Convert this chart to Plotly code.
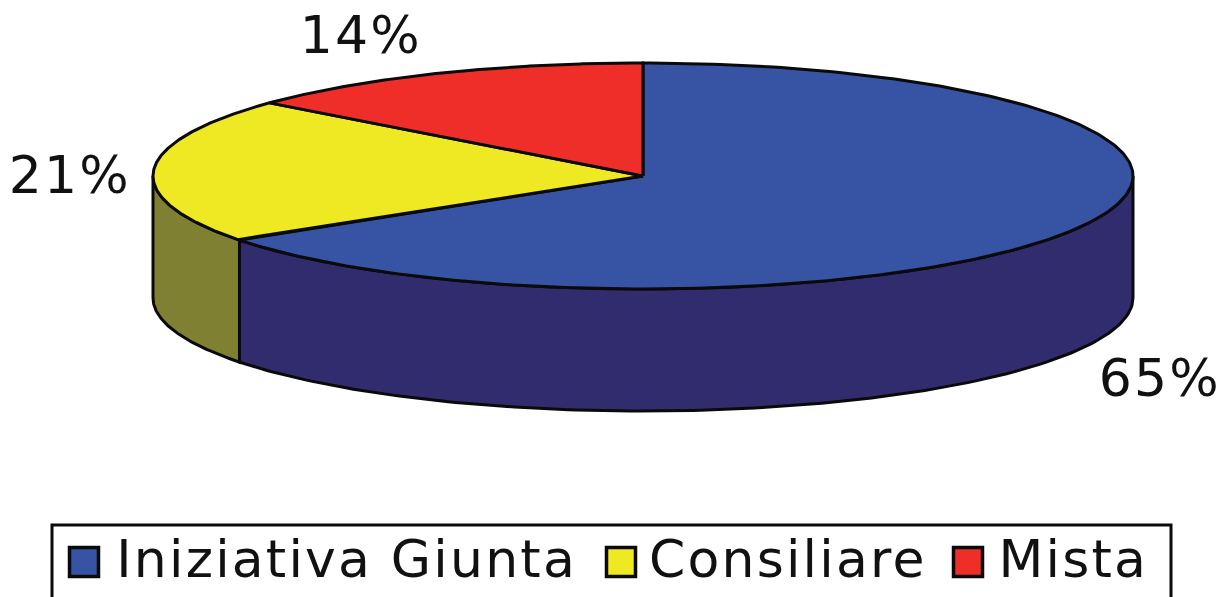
import numpy as np
import plotly.graph_objects as go

categories = ["Iniziativa Giunta", "Consiliare", "Mista"]
values = [65.4, 20.8, 13.8]
value_labels = ["65%", "21%", "14%"]
top_colors = ["#3753A4", "#EEE922", "#EF2E2A"]
side_colors = ["#312C6E", "#808033", "#7F1A18"]

W, H = 1223, 597
CX, CY, RX, RY, DEPTH = 643, 176, 490, 113, 122
LINE = "#0a0a0a"


def ell(t):
    t = np.radians(t)
    return CX + RX * np.sin(t), CY - RY * np.cos(t)


fig = go.Figure()
total = sum(values)
edges = np.concatenate([[0], np.cumsum(values) / total * 360])


def poly(xs, ys, color, name):
    fig.add_trace(go.Scatter(x=xs, y=ys, mode="lines", fill="toself", fillcolor=color,
                             line=dict(color=LINE, width=3), name=name,
                             hoverinfo="name", showlegend=False))


# Side walls: only the part of each slice on the front half of the ellipse
for i, cat in enumerate(categories):
    a, b = max(edges[i], 90), min(edges[i + 1], 270)
    if a >= b:
        continue
    t = np.linspace(a, b, 160)
    x, y = ell(t)
    poly(np.r_[x, x[::-1], x[0]], np.r_[y, y[::-1] + DEPTH, y[0]], side_colors[i], cat)

# Top faces
for i, cat in enumerate(categories):
    t = np.linspace(edges[i], edges[i + 1], 260)
    x, y = ell(t)
    poly(np.r_[CX, x, CX], np.r_[CY, y, CY], top_colors[i], cat)

# Legend swatches
swatch_x = [84, 621, 968]
text_x = [346, 788, 1073]
fig.add_trace(go.Scatter(
    x=swatch_x, y=[562, 562, 562], mode="markers", showlegend=False, hoverinfo="skip",
    marker=dict(symbol="square", size=29, color=top_colors, line=dict(color=LINE, width=3.5)),
))

annotations = []
for cat, tx in zip(categories, text_x):
    annotations.append(dict(x=tx, y=559, text=cat, showarrow=False, xanchor="center", yanchor="middle",
                            font=dict(family="DejaVu Sans", size=52, color="#111111")))
for lab, (lx, ly) in zip(value_labels, [(1160, 378), (70, 175), (361, 35)]):
    annotations.append(dict(x=lx, y=ly, text=lab, showarrow=False, xanchor="center", yanchor="middle",
                            font=dict(family="DejaVu Sans", size=52, color="#111111")))

fig.update_layout(
    width=W, height=H, margin=dict(l=0, r=0, t=0, b=0), autosize=False,
    paper_bgcolor="white", plot_bgcolor="white", showlegend=False,
    xaxis=dict(range=[0, W], visible=False, fixedrange=True),
    yaxis=dict(range=[H, 0], visible=False, fixedrange=True),
    annotations=annotations,
    shapes=[dict(type="rect", x0=52, x1=1171, y0=525, y1=620, line=dict(color=LINE, width=3),
                 layer="below")],
)
post = """
document.body.style.margin='0';
document.body.style.overflow='hidden';
document.querySelectorAll('.annotation-text').forEach(function(t){t.style.letterSpacing='2.2px';});
"""
fig.write_html("out.html", config={"displayModeBar": False}, post_script=post)
